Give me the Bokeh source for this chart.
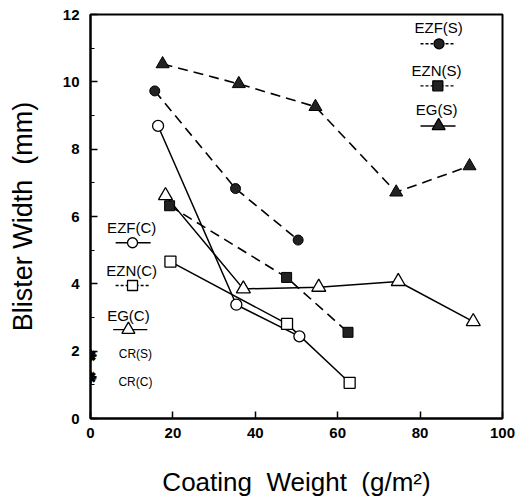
from bokeh.plotting import figure
from bokeh.models import SingleIntervalTicker, Range1d
from bokeh.core.properties import value
from bokeh.embed import file_html
from bokeh.resources import INLINE

# ---- data (coating weight g/m2, blister width mm) ----
ezf_s_x = [15.6, 35.2, 50.4]
ezf_s_y = [9.73, 6.83, 5.30]
ezn_s_x = [19.2, 47.6, 62.5]
ezn_s_y = [6.32, 4.19, 2.56]
eg_s_x = [17.5, 36.0, 54.6, 74.2, 92.0]
eg_s_y = [10.53, 9.94, 9.26, 6.72, 7.50]

ezf_c_x = [16.4, 35.4, 50.7]
ezf_c_y = [8.69, 3.38, 2.44]
ezn_c_x = [19.4, 47.7, 62.9]
ezn_c_y = [4.66, 2.81, 1.06]
eg_c_x = [18.2, 37.1, 55.4, 74.7, 92.9]
eg_c_y = [6.62, 3.85, 3.90, 4.07, 2.88]

cr_x = [0, 0]
cr_y = [1.87, 1.22]
cr_labels = ["CR(S)", "CR(C)"]

x_ticks = [0, 20, 40, 60, 80, 100]
y_ticks = [0, 2, 4, 6, 8, 10, 12]

FONT = "Liberation Sans"
DASH = "10 6"
NB = "\u00a0"

p = figure(frame_width=412, frame_height=404, output_backend="svg", toolbar_location=None,
           x_range=Range1d(0, 100), y_range=Range1d(0, 12),
           min_border_left=90, min_border_right=16, min_border_top=14, min_border_bottom=81)
p.grid.visible = False
p.outline_line_color = "black"
p.outline_line_width = 2
p.background_fill_color = "white"
p.border_fill_color = "white"

p.xaxis.ticker = x_ticks
p.yaxis.ticker = SingleIntervalTicker(interval=2, num_minor_ticks=2)
for ax in (p.xaxis[0], p.yaxis[0]):
    ax.axis_line_width = 2
    ax.major_tick_in = 7
    ax.major_tick_out = 0
    ax.major_tick_line_width = 1.5
    ax.major_label_text_font = FONT
    ax.major_label_text_font_size = "15px"
    ax.major_label_text_font_style = "bold"
    ax.major_label_text_color = "black"
    ax.axis_label_text_font = FONT
    ax.axis_label_text_font_style = "normal"
    ax.axis_label_text_color = "black"
p.xaxis.major_label_standoff = 9
p.yaxis.major_label_standoff = 11
p.xaxis.axis_label_text_font_size = "26px"
p.yaxis.axis_label_text_font_size = "27px"
p.xaxis.minor_tick_line_color = None
p.yaxis.minor_tick_in = 4
p.yaxis.minor_tick_out = 0
p.xaxis.axis_label = "Coating" + NB + " Weight" + NB + " (g/m\u00b2)"
p.yaxis.axis_label = "Blister Width" + NB + " (mm)"
p.xaxis.axis_label_standoff = 26
p.yaxis.axis_label_standoff = 22

# ---- series ----
p.line(ezf_s_x, ezf_s_y, color="black", line_width=1.6, line_dash=DASH)
p.line(ezn_s_x, ezn_s_y, color="black", line_width=1.6, line_dash=DASH)
p.line(eg_s_x, eg_s_y, color="black", line_width=1.6, line_dash=DASH)
p.line(ezf_c_x, ezf_c_y, color="black", line_width=1.5)
p.line(ezn_c_x, ezn_c_y, color="black", line_width=1.5)
p.line(eg_c_x, eg_c_y, color="black", line_width=1.5)

p.scatter(ezf_s_x, ezf_s_y, marker="circle", size=10, fill_color="#222222", line_color="black")
p.scatter(ezn_s_x, ezn_s_y, marker="square", size=10, fill_color="#222222", line_color="black")
p.scatter(eg_s_x, eg_s_y, marker="triangle", size=13, fill_color="#222222", line_color="black")
p.scatter(ezf_c_x, ezf_c_y, marker="circle", size=11, fill_color="white", line_color="black", line_width=1.3)
p.scatter(ezn_c_x, ezn_c_y, marker="square", size=11, fill_color="white", line_color="black", line_width=1.3)
p.scatter(eg_c_x, eg_c_y, marker="triangle", size=14, fill_color="white", line_color="black", line_width=1.3)
p.scatter(cr_x, cr_y, marker="asterisk", size=12, line_color="black", line_width=2.5)
p.text(cr_x, cr_y, text=["\u2739"] * len(cr_x), text_font=value("DejaVu Sans"),
       text_font_size="17px", text_align="center", text_baseline="middle", color="black")

# ---- in-plot legend ----
def legend_entry(text, tx, ty, lx0, lx1, ly, mx, marker, filled, msize, dashed):
    p.text([tx], [ty], text=[text], text_font=value(FONT), text_font_size="15px",
           text_align="center", text_baseline="middle", color="black")
    p.line([lx0, lx1], [ly, ly], color="black", line_width=1.4,
           line_dash=("3 2" if dashed else "solid"))
    p.scatter([mx], [ly], marker=marker, size=msize,
              fill_color=("#222222" if filled else "white"), line_color="black", line_width=1.3)

legend_entry("EZF(S)", 84.5, 11.62, 80.1, 88.6, 11.13, 84.6, "circle", True, 10, True)
legend_entry("EZN(S)", 84.0, 10.34, 80.1, 88.6, 9.88, 84.3, "square", True, 10, True)
legend_entry("EG(S)", 84.0, 9.17, 80.1, 88.6, 8.69, 84.5, "triangle", True, 13, False)
legend_entry("EZF(C)", 10.0, 5.67, 6.1, 14.6, 5.22, 10.2, "circle", False, 10, False)
legend_entry("EZN(C)", 10.0, 4.39, 6.1, 14.6, 3.95, 10.2, "square", False, 10, True)
legend_entry("EG(C)", 9.2, 3.06, 5.5, 13.8, 2.64, 9.2, "triangle", False, 13, False)

p.text([10.9, 10.9], [cr_y[0] + 0.05, cr_y[1] - 0.15], text=cr_labels, text_font=value(FONT),
       text_font_size="12px", text_align="center", text_baseline="middle", color="black")

open("out.html", "w").write(file_html(p, INLINE))
